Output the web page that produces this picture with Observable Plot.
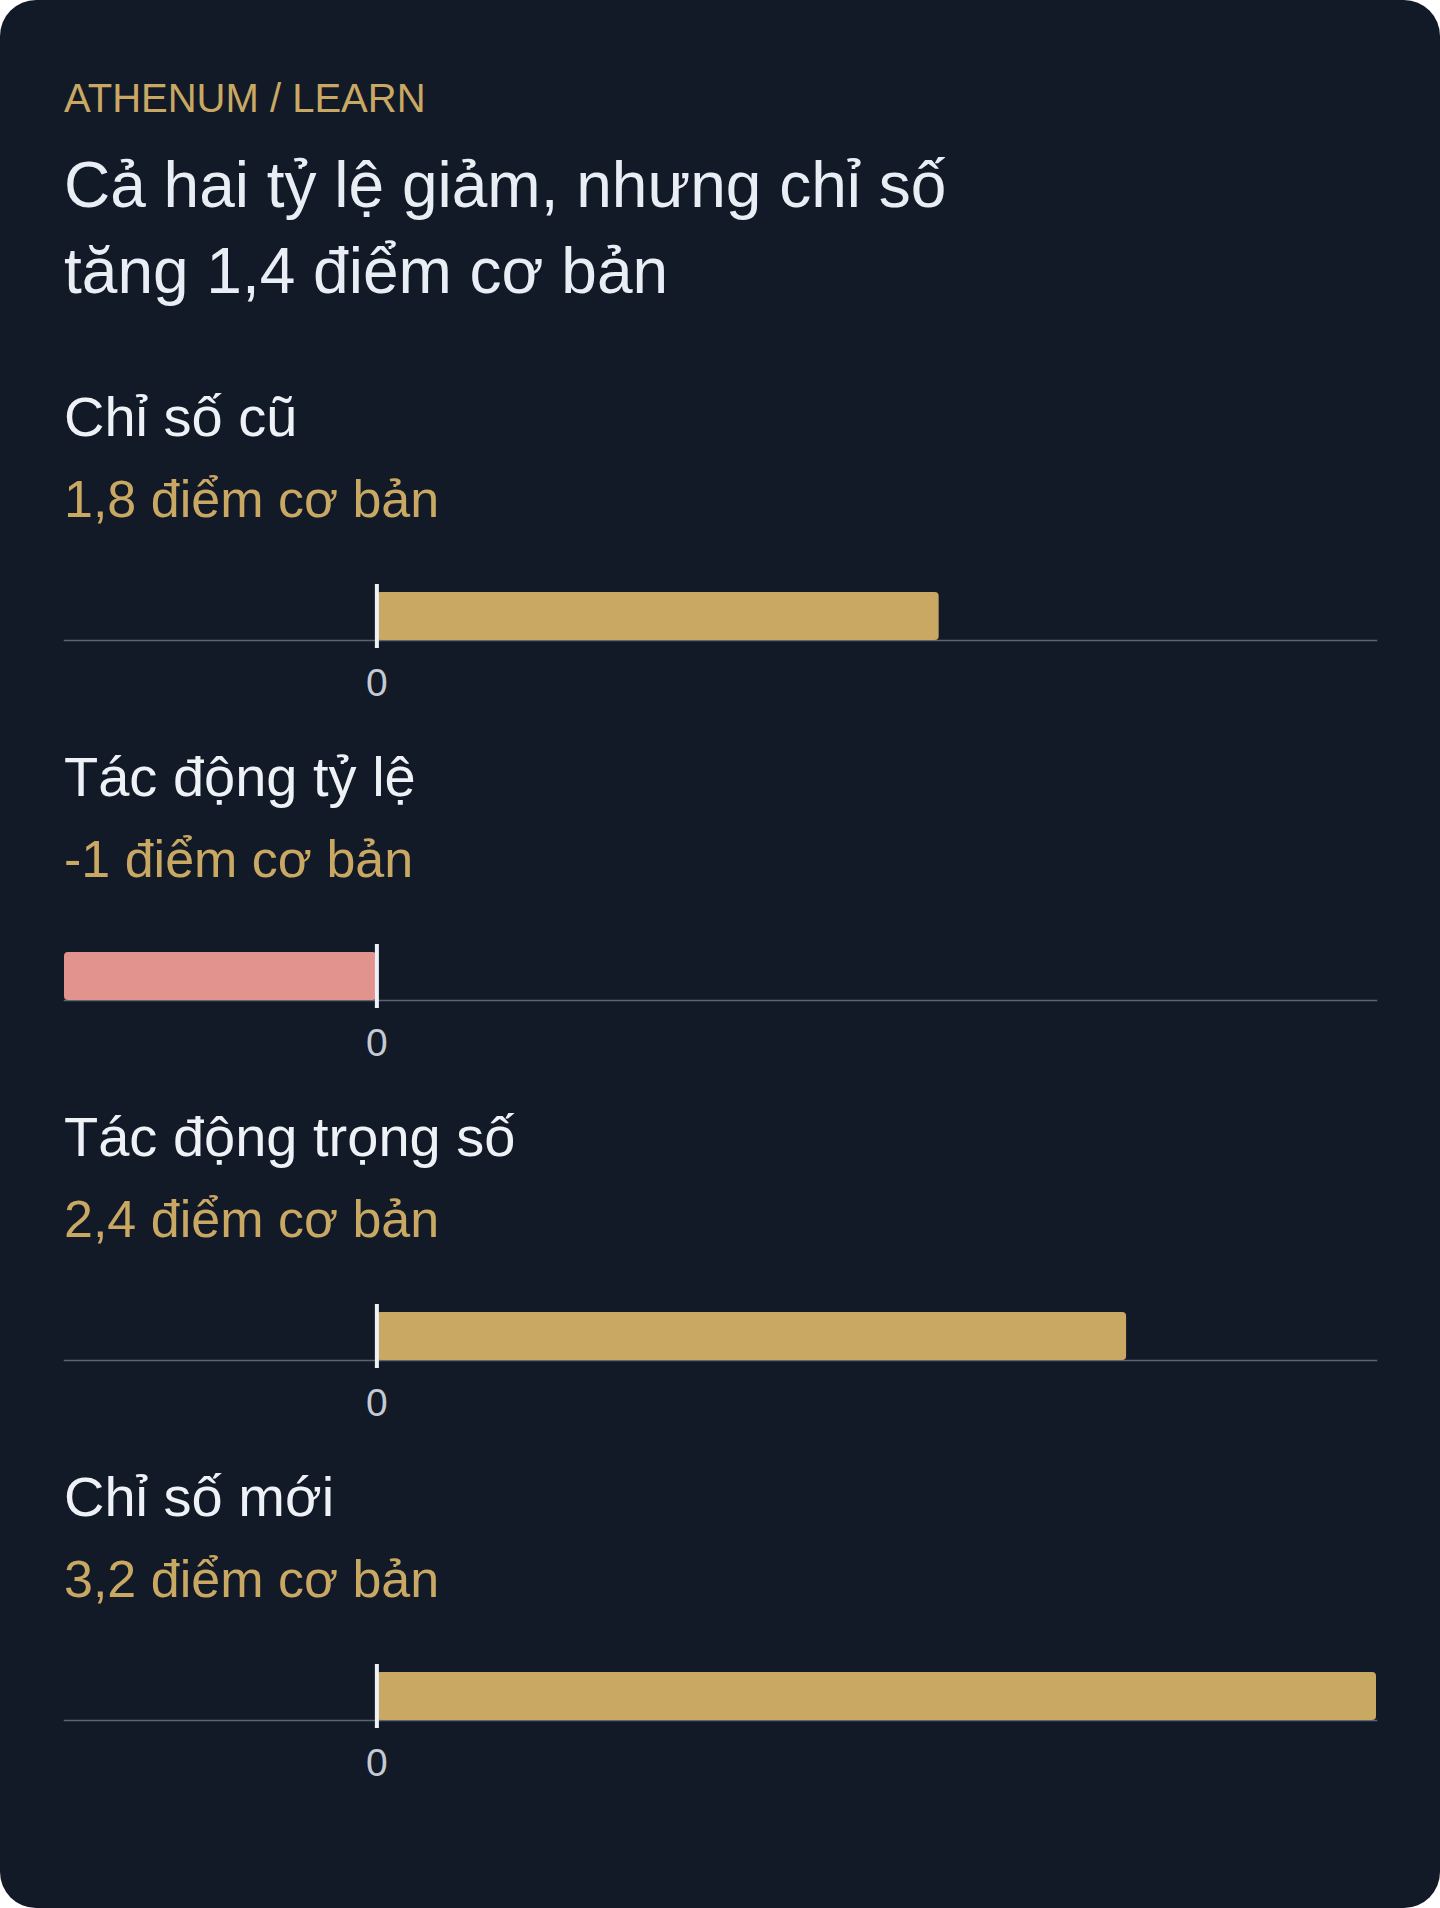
<!DOCTYPE html>
<html>
<head>
<meta charset="utf-8">
<script src="https://cdn.jsdelivr.net/npm/d3@7"></script>
<script src="https://cdn.jsdelivr.net/npm/@observablehq/plot@0.6"></script>
<style>
  html, body { margin: 0; padding: 0; background: #ffffff; }
  body { width: 1440px; height: 1908px; font-family: "Liberation Sans", Arial, Helvetica, sans-serif; }
  .card {
    width: 1440px; height: 1908px; box-sizing: border-box;
    background: #131a27; border-radius: 36px;
    padding: 73px 64px 0 64px; overflow: hidden;
  }
  .eyebrow { font-size: 40px; line-height: 50px; color: #c9a864; height: 50px; white-space: nowrap; }
  .title { font-size: 64px; line-height: 86px; color: #e9edf4; margin-top: 18.8px; height: 172px; }
  .sections { margin-top: 67.8px; }
  .section { height: 360px; }
  .label { font-size: 56px; line-height: 70px; height: 70px; color: #eef1f6; white-space: nowrap; }
  .value { font-size: 52px; line-height: 70px; height: 70px; color: #c9a864; margin-top: 12px; white-space: nowrap; }
  .plot svg { display: block; }
</style>
</head>
<body>
<div class="card">
  <div class="eyebrow" id="eyebrow"></div>
  <div class="title" id="title"></div>
  <div class="sections" id="sections"></div>
</div>
<script>
const eyebrowText = "ATHENUM / LEARN";
const titleLines = ["Cả hai tỷ lệ giảm, nhưng chỉ số", "tăng 1,4 điểm cơ bản"];
const categories = ["Chỉ số cũ", "Tác động tỷ lệ", "Tác động trọng số", "Chỉ số mới"];
const values = [1.8, -1, 2.4, 3.2];
const valueLabels = ["1,8 điểm cơ bản", "-1 điểm cơ bản", "2,4 điểm cơ bản", "3,2 điểm cơ bản"];
const xDomain = [-1, 3.2];
const tickValues = [0];

const gold = "#c9a864";
const pink = "#e3938e";

document.getElementById("eyebrow").textContent = eyebrowText;
document.getElementById("title").innerHTML = titleLines.map(t => `<div>${t}</div>`).join("");

const container = document.getElementById("sections");
categories.forEach((cat, i) => {
  const sec = document.createElement("div");
  sec.className = "section";
  const lab = document.createElement("div");
  lab.className = "label";
  lab.textContent = cat;
  const val = document.createElement("div");
  val.className = "value";
  val.textContent = valueLabels[i];
  const plotDiv = document.createElement("div");
  plotDiv.className = "plot";
  sec.appendChild(lab);
  sec.appendChild(val);
  sec.appendChild(plotDiv);
  container.appendChild(sec);

  const data = [{category: cat, value: values[i]}];
  const chart = Plot.plot({
    width: 1312,
    height: 208,
    marginTop: 50,
    marginBottom: 102,
    marginLeft: 0,
    marginRight: 0,
    style: {
      fontFamily: "'Liberation Sans', Arial, sans-serif",
      fontSize: "39px",
      color: "#c3cad5",
      background: "transparent",
      overflow: "visible"
    },
    x: {domain: xDomain, axis: null, label: null},
    y: {domain: [cat], axis: null, padding: 0},
    marks: [
      Plot.frame({anchor: "bottom", stroke: "#5a6472", strokeWidth: 1.5}),
      Plot.barX(data, {
        x: "value", y: "category",
        fill: d => d.value < 0 ? pink : gold,
        insetTop: 8, rx: 4
      }),
      Plot.ruleX(tickValues, {stroke: "#eef1f6", strokeWidth: 4, insetBottom: -8}),
      Plot.axisX(tickValues, {
        tickSize: 0, tickPadding: 28, label: null,
        tickFormat: d => String(d),
        fill: "#c3cad5", fontSize: 39
      })
    ]
  });
  plotDiv.appendChild(chart);
});
</script>
</body>
</html>
